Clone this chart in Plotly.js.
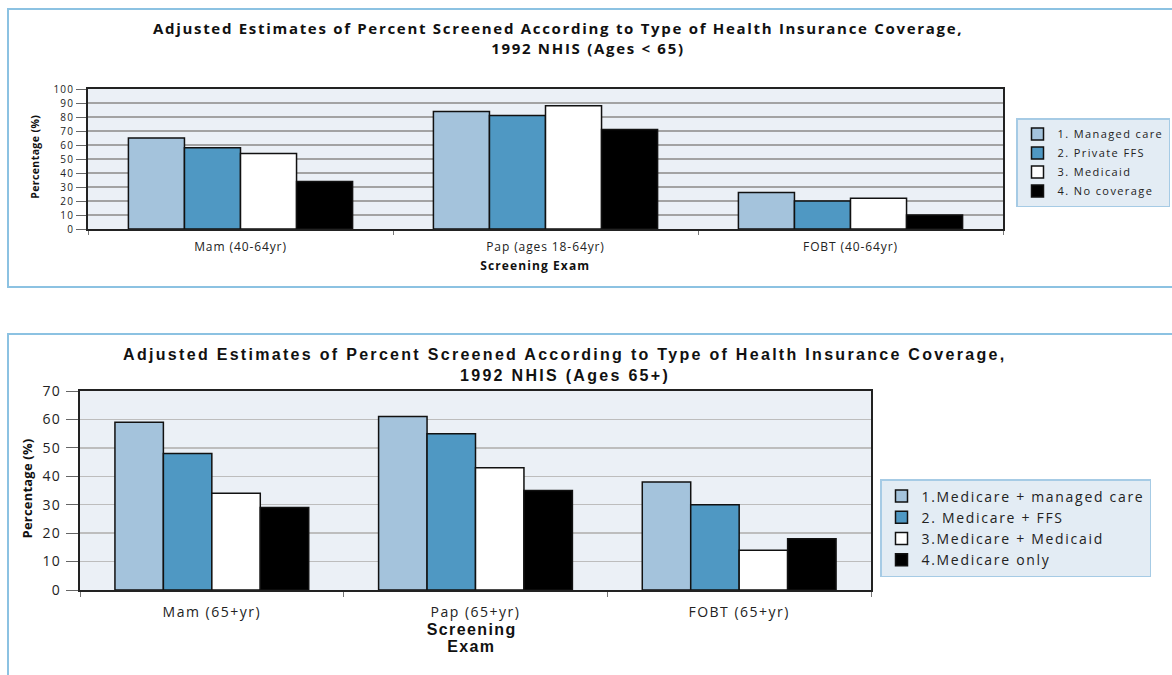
<!DOCTYPE html>
<html>
<head>
<meta charset="utf-8">
<script src="https://cdn.plot.ly/plotly-3.0.1.min.js"></script>
<style>
  html, body { margin: 0; padding: 0; background: #fff; }
  #chart { width: 1172px; height: 675px; }
  /* wide tracking used throughout the figure */
  text.legendtext { letter-spacing: 1.4px; }
  text.legend2text { letter-spacing: 1.7px; }
  .xtick text { letter-spacing: 0.9px; }
  .x2tick text { letter-spacing: 1.5px; }
  .ytick text { letter-spacing: 1.1px; }
  .y2tick text { letter-spacing: 1.4px; }
  .annotation[data-index="0"] text,
  .annotation[data-index="1"] text { letter-spacing: 1.7px; }
  .annotation[data-index="2"] text { letter-spacing: 0.4px; }
  .annotation[data-index="3"] text { letter-spacing: 1.1px; }
  .annotation[data-index="4"] text,
  .annotation[data-index="5"] text { letter-spacing: 2.3px; }
  .annotation[data-index="6"] text { letter-spacing: 0.2px; }
  .annotation[data-index="7"] text,
  .annotation[data-index="8"] text { letter-spacing: 1.4px; }
</style>
</head>
<body>
<div id="chart"></div>
<script>
// Screening exams, adults under 65
const examsUnder65 = ['Mam (40-64yr)', 'Pap (ages 18-64yr)', 'FOBT (40-64yr)'];
const managedCare = [65, 84, 26];
const privateFFS = [58, 81, 20];
const medicaid = [54, 88, 22];
const noCoverage = [34, 71, 10];

// Screening exams, adults 65 and over
const exams65Plus = ['Mam (65+yr)', 'Pap (65+yr)', 'FOBT (65+yr)'];
const medicareManaged = [59, 61, 38];
const medicareFFS = [48, 55, 30];
const medicareMedicaid = [34, 43, 14];
const medicareOnly = [29, 35, 18];

const namesUnder65 = ['1. Managed care', '2. Private FFS', '3. Medicaid', '4. No coverage'];
const names65Plus = ['1.Medicare + managed care', '2. Medicare + FFS', '3.Medicare + Medicaid', '4.Medicare only'];

const fills = ['#a4c3dc', '#4f98c3', '#ffffff', '#000000'];

const W = 1172, H = 675;
const px = v => v / W;
const py = v => 1 - v / H;

const SANS = '"Open Sans", sans-serif';
const ARIAL = '"Liberation Sans", Arial, sans-serif';

const traces = [];
[managedCare, privateFFS, medicaid, noCoverage].forEach((vals, i) => {
  traces.push({
    type: 'bar', x: examsUnder65, y: vals, name: namesUnder65[i],
    xaxis: 'x', yaxis: 'y', legend: 'legend',
    marker: { color: fills[i], line: { color: '#111', width: 1.5 } },
    hoverinfo: 'x+y+name'
  });
});
[medicareManaged, medicareFFS, medicareMedicaid, medicareOnly].forEach((vals, i) => {
  traces.push({
    type: 'bar', x: exams65Plus, y: vals, name: names65Plus[i],
    xaxis: 'x2', yaxis: 'y2', legend: 'legend2',
    marker: { color: fills[i], line: { color: '#111', width: 1.5 } },
    hoverinfo: 'x+y+name'
  });
});

const axisFrame = {
  showline: true, mirror: true, linecolor: '#222', linewidth: 2
};

function note(text, x, y, font, extra) {
  return Object.assign({
    text: text, xref: 'paper', yref: 'paper', x: px(x), y: py(y),
    xanchor: 'center', yanchor: 'middle', align: 'center', showarrow: false, font: font
  }, extra || {});
}

const layout = {
  width: W, height: H,
  margin: { l: 0, r: 0, t: 0, b: 0 },
  paper_bgcolor: '#ffffff',
  plot_bgcolor: '#ebf0f6',
  barmode: 'group',
  bargap: 0.265,
  bargroupgap: 0,
  showlegend: true,
  xaxis: Object.assign({}, axisFrame, {
    domain: [px(88), px(1003)], anchor: 'y', type: 'category',
    ticks: 'outside', tickson: 'boundaries', ticklen: 4, tickcolor: '#777',
    ticklabelstandoff: 6,
    tickfont: { family: SANS, size: 12, color: '#222' },
    showgrid: false, fixedrange: true
  }),
  yaxis: Object.assign({}, axisFrame, {
    domain: [py(229), py(89)], anchor: 'x', range: [0, 100], dtick: 10,
    ticks: 'outside', ticklen: 10, tickcolor: '#666',
    tickfont: { family: SANS, size: 10, color: '#222' },
    gridcolor: '#a3a3a3', gridwidth: 1.5, zeroline: false, fixedrange: true
  }),
  xaxis2: Object.assign({}, axisFrame, {
    domain: [px(80), px(871)], anchor: 'y2', type: 'category',
    ticks: 'outside', tickson: 'boundaries', ticklen: 5, tickcolor: '#777',
    ticklabelstandoff: 8,
    tickfont: { family: SANS, size: 14, color: '#222' },
    showgrid: false, fixedrange: true
  }),
  yaxis2: Object.assign({}, axisFrame, {
    domain: [py(590), py(391)], anchor: 'x2', range: [0, 70], dtick: 10,
    ticks: 'outside', ticklen: 12, tickcolor: '#666',
    ticklabelstandoff: 2,
    tickfont: { family: SANS, size: 14, color: '#222' },
    gridcolor: '#bdbdbd', gridwidth: 1.5, zeroline: false, fixedrange: true
  }),
  legend: {
    x: px(1016), y: py(118), xanchor: 'left', yanchor: 'top',
    bgcolor: '#e3ecf4', bordercolor: '#a6cbe5', borderwidth: 1.5,
    font: { family: SANS, size: 11, color: '#222' },
    traceorder: 'normal', itemclick: false, itemdoubleclick: false
  },
  legend2: {
    x: px(880), y: py(479), xanchor: 'left', yanchor: 'top',
    bgcolor: '#e3ecf4', bordercolor: '#a6cbe5', borderwidth: 1.5,
    font: { family: SANS, size: 14, color: '#222' },
    traceorder: 'normal', itemclick: false, itemdoubleclick: false
  },
  shapes: [
    { type: 'rect', xref: 'paper', yref: 'paper', x0: px(8), x1: px(1190), y0: py(287), y1: py(9),
      line: { color: '#8cc2e2', width: 2 }, fillcolor: 'rgba(0,0,0,0)', layer: 'below' },
    { type: 'rect', xref: 'paper', yref: 'paper', x0: px(8), x1: px(1190), y0: py(700), y1: py(334),
      line: { color: '#8cc2e2', width: 2 }, fillcolor: 'rgba(0,0,0,0)', layer: 'below' }
  ],
  annotations: [
    note('Adjusted Estimates of Percent Screened According to Type of Health Insurance Coverage,', 558, 28,
      { family: SANS, size: 15, weight: 700, color: '#111' }),
    note('1992 NHIS (Ages &lt; 65)', 588, 48,
      { family: SANS, size: 15, weight: 700, color: '#111' }),
    note('Percentage (%)', 35, 157,
      { family: SANS, size: 10.5, weight: 700, color: '#111' }, { textangle: -90 }),
    note('Screening Exam', 535, 266,
      { family: SANS, size: 12, weight: 700, color: '#111' }),

    note('Adjusted Estimates of Percent Screened According to Type of Health Insurance Coverage,', 565, 354,
      { family: ARIAL, size: 16, weight: 700, color: '#111' }),
    note('1992 NHIS (Ages 65+)', 565, 375,
      { family: ARIAL, size: 16, weight: 700, color: '#111' }),
    note('Percentage (%)', 27, 489,
      { family: SANS, size: 13, weight: 700, color: '#111' }, { textangle: -90 }),
    note('Screening', 471, 629,
      { family: ARIAL, size: 16, weight: 700, color: '#111' }),
    note('Exam', 471, 646,
      { family: ARIAL, size: 16, weight: 700, color: '#111' })
  ]
};

Plotly.newPlot('chart', traces, layout, { displayModeBar: false, responsive: false, staticPlot: true });
</script>
</body>
</html>
